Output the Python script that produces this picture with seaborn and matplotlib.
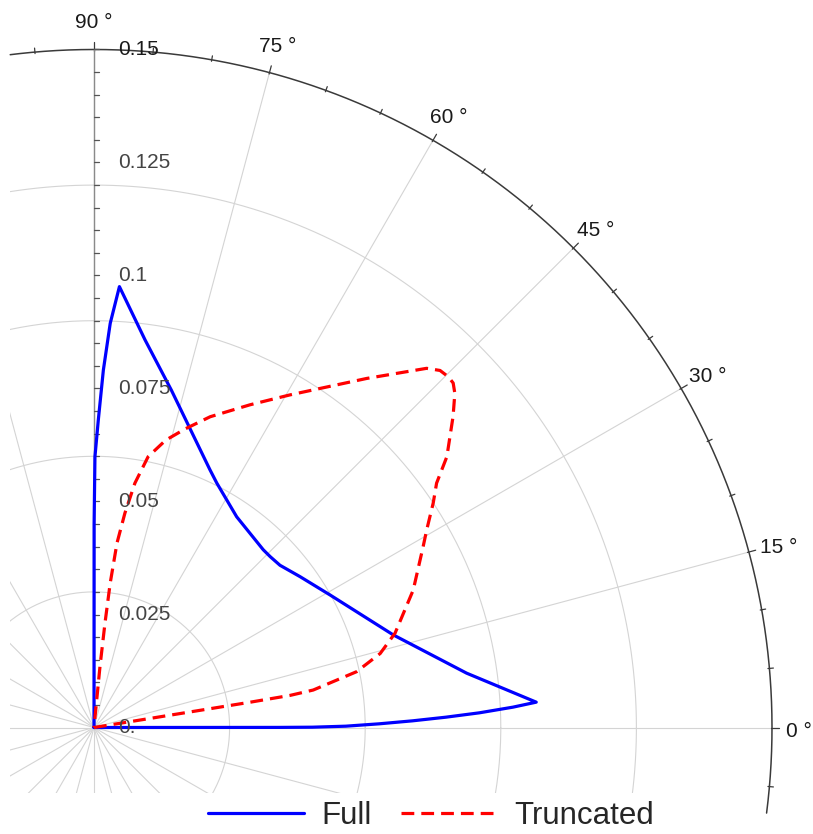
import numpy as np
import pandas as pd
import matplotlib
matplotlib.use("Agg")
import matplotlib.pyplot as plt
import seaborn as sns

# ---------------- data ----------------
theta_full = [0, 0.03, 0.08, 0.3, 0.74, 1.2, 1.68, 2.18, 2.78, 3.28, 8.3, 17.2, 29.3,
              36.2, 41.1, 44.1, 46.4, 55.9, 63.3, 65.75, 77.1, 82.5,
              86.7, 87.7, 88.5, 89.2, 89.8, 89.97, 90]
r_full = [0, 0.0409, 0.0483, 0.0557, 0.0631, 0.0705, 0.0779, 0.0853, 0.0928, 0.0980,
          0.0833, 0.0693, 0.0599, 0.0565, 0.0546, 0.0543, 0.0543, 0.0563,
          0.0605, 0.0625, 0.0766, 0.0865, 0.0977, 0.0895, 0.0791,
          0.0680, 0.0599, 0.045, 0]

theta_trunc = [9.2, 9.2, 9.2, 9.2, 9.3, 9.7, 12.0, 14.5, 17.4, 23.3, 28.8, 30.7, 33.5,
               35.5, 37.5, 40.9, 42.8, 43.8, 44.7, 45.9, 47.2, 52.0, 59.5, 64.2, 69.5,
               73.0, 76.0, 78.7, 80.5, 81.8, 82.9, 83.6, 84.0, 84.4, 84.5]
r_trunc = [0, 0.012, 0.024, 0.035, 0.044, 0.0492, 0.0594, 0.0654, 0.0698, 0.0769,
           0.0831, 0.0856, 0.0900, 0.0931, 0.0984, 0.1051, 0.1088, 0.1101, 0.1103,
           0.1100, 0.1083, 0.0980, 0.0854, 0.0793, 0.0734, 0.0691, 0.0655, 0.0611,
           0.0548, 0.0479, 0.0411, 0.0321, 0.0232, 0.0135, 0]

series_names = ["Full", "Truncated"]
radial_tick_values = [0, 0.025, 0.05, 0.075, 0.1, 0.125, 0.15]
radial_tick_labels = ["0.", "0.025", "0.05", "0.075", "0.1", "0.125", "0.15"]
angle_tick_values = [0, 15, 30, 45, 60, 75, 90]
angle_tick_labels = ["0 \u00b0", "15 \u00b0", "30 \u00b0", "45 \u00b0", "60 \u00b0", "75 \u00b0", "90 \u00b0"]
grid_radii = [0.03, 0.06, 0.09, 0.12]
r_max = 0.15

# ---------------- figure / geometry ----------------
sns.set_style("white")
plt.rcParams["font.family"] = ["Liberation Sans", "DejaVu Sans"]

W, H = 813, 834
fig = plt.figure(figsize=(W / 100, H / 100), dpi=100)
K = 4520.0                      # pixels per data unit
ox, oy = 94.0, 727.5            # origin in pixels (from top-left)
ax_l, ax_r, ax_t, ax_b = 10, 813, 0, 793
ax = fig.add_axes([ax_l / W, (H - ax_b) / H, (ax_r - ax_l) / W, (ax_b - ax_t) / H])
xlim = ((ax_l - ox) / K, (ax_r - ox) / K)
ylim = (-(ax_b - oy) / K, (oy - ax_t) / K)

grid_color = "#d4d4d4"
# spokes every 15 degrees
for a in range(0, 360, 15):
    t = np.deg2rad(a)
    ax.plot([0, r_max * np.cos(t)], [0, r_max * np.sin(t)], color=grid_color, lw=0.8, zorder=1)
# grid circles
tt = np.linspace(0, 2 * np.pi, 721)
for gr in grid_radii:
    ax.plot(gr * np.cos(tt), gr * np.sin(tt), color=grid_color, lw=0.8, zorder=1)

# outer arc frame
arc = np.deg2rad(np.linspace(-7.25, 97.1, 400))
ax.plot(r_max * np.cos(arc), r_max * np.sin(arc), color="#3a3a3a", lw=1.1, clip_on=False, zorder=3)
for a in range(-5, 96, 5):
    t = np.deg2rad(a)
    ln = (7 if a % 15 == 0 else 4) / K
    ax.plot([(r_max - 1.5 / K) * np.cos(t), (r_max + ln) * np.cos(t)],
            [(r_max - 1.5 / K) * np.sin(t), (r_max + ln) * np.sin(t)],
            color="#3a3a3a", lw=0.9, clip_on=False, zorder=3)
for v, lab in zip(angle_tick_values, angle_tick_labels):
    t = np.deg2rad(v)
    rr = r_max + 31 / K
    dx = -4 / K if v == 0 else 0
    ax.text(rr * np.cos(t) + dx, rr * np.sin(t) - 4 / K, lab, ha="center", va="center",
            fontsize=15, color="#1a1a1a", clip_on=False)

# radial axis
ax.plot([0, 0], [0, r_max], color="#8a8a8a", lw=1.0, zorder=3)
for i in range(1, 31):
    yv = i * 0.005
    ax.plot([0, 5 / K], [yv, yv], color="#555555", lw=0.9, zorder=3)
for v, lab in zip(radial_tick_values, radial_tick_labels):
    ax.text(24 / K, v, lab, ha="left", va="center", fontsize=15,
            color="#1a1a1a" if v == r_max else "#444444", zorder=5)

# ---------------- curves via seaborn ----------------
df = pd.concat([
    pd.DataFrame({"theta": theta_full, "r": r_full, "series": series_names[0]}),
    pd.DataFrame({"theta": theta_trunc, "r": r_trunc, "series": series_names[1]}),
], ignore_index=True)
df["x"] = df["r"] * np.cos(np.deg2rad(df["theta"]))
df["y"] = df["r"] * np.sin(np.deg2rad(df["theta"]))

sns.lineplot(data=df, x="x", y="y", hue="series", style="series",
             estimator=None, sort=False, ax=ax, lw=2.3, zorder=4,
             palette={"Full": "#0000ff", "Truncated": "#ff0000"},
             dashes={"Full": "", "Truncated": (4.0, 2.2)})
for ln_ in ax.lines[-2:]:
    ln_.set_solid_joinstyle("round")
    ln_.set_dash_joinstyle("round")

sns.move_legend(ax, "center", bbox_to_anchor=((431 - ax_l) / (ax_r - ax_l), (ax_b - 815.5) / (ax_b - ax_t)),
                ncol=2, title=None, frameon=False, fontsize=22.5, handlelength=3.05,
                handletextpad=0.57, columnspacing=0.92, borderpad=0.0, borderaxespad=0.0)
leg = ax.get_legend()
for h in leg.get_lines():
    h.set_linewidth(2.3)

ax.set_xlim(*xlim)
ax.set_ylim(*ylim)
ax.set_axis_off()

fig.savefig("out.png", dpi=100)
